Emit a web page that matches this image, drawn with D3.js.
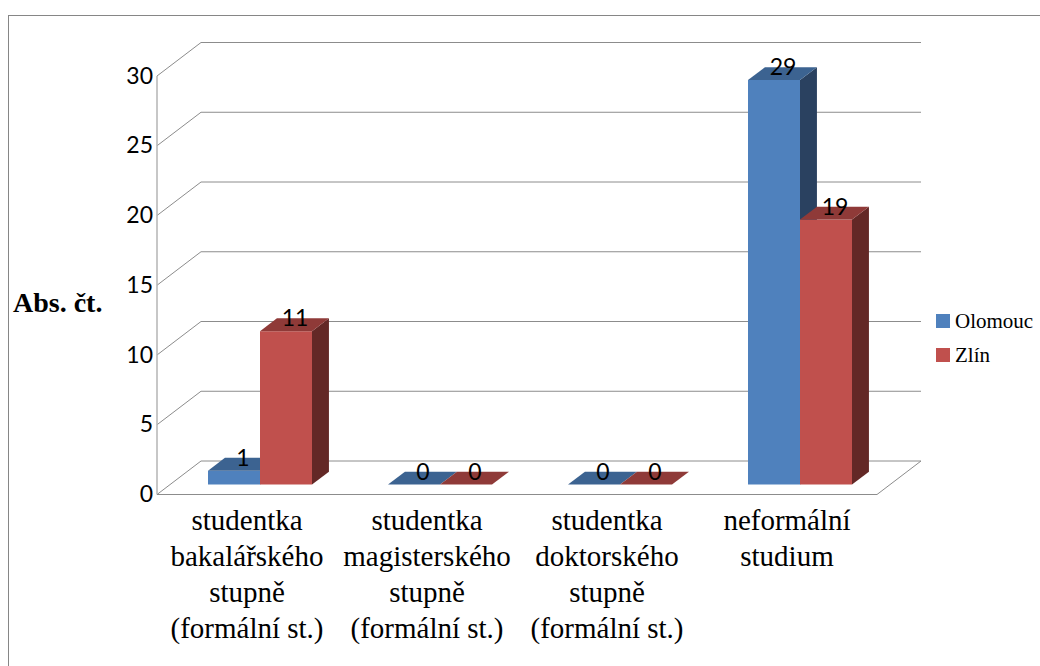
<!DOCTYPE html>
<html><head><meta charset="utf-8">
<script src="https://cdn.jsdelivr.net/npm/d3@7/dist/d3.min.js"></script>
<style>html,body{margin:0;padding:0;background:#fff;overflow:hidden}svg{display:block}</style>
</head><body><svg id="c" width="1040" height="666"></svg>
<script>
const categories = [
  ["studentka","bakalářského","stupně","(formální st.)"],
  ["studentka","magisterského","stupně","(formální st.)"],
  ["studentka","doktorského","stupně","(formální st.)"],
  ["neformální","studium"]
];
const olomouc = [1,0,0,29];
const zlin = [11,0,0,19];
const seriesNames = ["Olomouc","Zlín"];
const yTicks = [0,5,10,15,20,25,30];

const svg = d3.select("#c");
const sans = "Lato, 'Open Sans', sans-serif";
const serif = "'Liberation Serif', serif";
const wallDx = 44, wallDy = -33.5;
const barDepthOffset = 0.295, barDepth = 0.385;
const x = d3.scaleBand().domain(d3.range(4)).range([157,877]);
const y = d3.scaleLinear().domain([0,30]).range([494.5,76]);
const P = (px,py,d)=>[px+wallDx*d, py+wallDy*d];
const poly = (pts,fill)=>svg.append("polygon").attr("points",pts.join(" ")).attr("fill",fill);

svg.append("rect").attr("x",8.5).attr("y",15.5).attr("width",1100).attr("height",700).attr("fill","none").attr("stroke","#868686");

yTicks.forEach(t=>{
  const yy=y(t);
  svg.append("polyline").attr("fill","none").attr("stroke","#8c8c8c").attr("stroke-width",1)
    .attr("points",[[157,yy],P(157,yy,1),P(877,yy,1)].join(" "));
});
svg.append("line").attr("x1",157).attr("x2",157).attr("y1",y(30)).attr("y2",y(0)).attr("stroke","#b5b5b5").attr("stroke-width",1.5);
svg.append("polyline").attr("fill","none").attr("stroke","#8c8c8c").attr("points",[[157,y(0)],[877,y(0)],P(877,y(0),1)].join(" "));

yTicks.forEach(t=>svg.append("text").attr("x",153).attr("y",y(t)+7.5).attr("text-anchor","end")
  .attr("font-family",sans).attr("font-size",23).attr("fill","#000").text(t));

const colors=[{f:"#4f81bd",t:"#3c6391",s:"#2a4160"},{f:"#c0504d",t:"#8f3a38",s:"#632826"}];
const barW=52, groupOffset=51;
const drawBar=(i,k,v)=>{
  const c=colors[k], x0=x(i)+groupOffset+k*barW, x1=x0+barW;
  const [,yb]=P(0,y(0),barDepthOffset);
  const top=yb-(y(0)-y(v));
  const dx=wallDx*barDepth, dy=wallDy*barDepth;
  if(v>0){
    poly([[x1,yb],[x1+dx,yb+dy],[x1+dx,top+dy],[x1,top]],c.s);
    poly([[x0,yb],[x1,yb],[x1,top],[x0,top]],c.f);
  }
  poly([[x0,top],[x1,top],[x1+dx,top+dy],[x0+dx,top+dy]],c.t);
};
const labels=[];
d3.range(4).forEach(i=>{ drawBar(i,0,olomouc[i]); drawBar(i,1,zlin[i]);
  labels.push([i,0,olomouc[i]],[i,1,zlin[i]]); });
labels.forEach(([i,k,v])=>{
  const [,yb]=P(0,y(0),barDepthOffset);
  svg.append("text").attr("x",x(i)+groupOffset+k*barW+barW/2+9)
    .attr("y",yb-(y(0)-y(v))-5).attr("text-anchor","middle")
    .attr("font-family",sans).attr("font-size",23).attr("fill","#000").text(v);
});

categories.forEach((lines,i)=>{
  lines.forEach((l,j)=>svg.append("text").attr("x",x(i)+x.bandwidth()/2).attr("y",530+j*36)
    .attr("text-anchor","middle").attr("font-family",serif).attr("font-size",29).attr("fill","#000").text(l));
});

svg.append("text").attr("x",13).attr("y",312).attr("font-family",serif).attr("font-weight","bold").attr("font-size",28).attr("fill","#000").text("Abs. čt.");

seriesNames.forEach((n,k)=>{
  const ly=[314,348][k];
  svg.append("rect").attr("x",936).attr("y",ly).attr("width",14).attr("height",14).attr("fill",colors[k].f);
  svg.append("text").attr("x",955).attr("y",ly+14).attr("font-family",serif).attr("font-size",21).attr("fill","#000").text(n);
});
</script></body></html>
